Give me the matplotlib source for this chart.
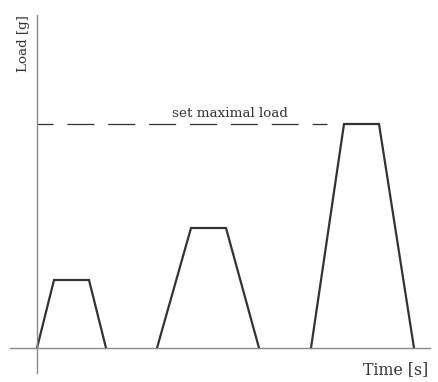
import matplotlib.pyplot as plt

# time points (arbitrary units) for each loading cycle: start, top start, top end, end
cycle_times = [
    [0, 17, 52, 69],
    [120, 154, 189, 222],
    [274, 307, 342, 377],
]
cycle_loads = [68, 120, 224]
max_load = 224
max_load_label = "set maximal load"

fig = plt.figure(figsize=(4.39, 3.82), dpi=100)
ax = fig.add_axes([0, 0, 1, 1])
ax.set_xlim(-37, 402)
ax.set_ylim(-34, 348)

for t, load in zip(cycle_times, cycle_loads):
    ax.plot(t, [0, load, load, 0], color="#333333", lw=1.6, solid_joinstyle="miter")

# dashed "maximal load" line, starting with a partial dash at the axis
ax.plot([0, 290], [max_load, max_load], color="#333333", lw=0.9,
        dash_capstyle="butt", linestyle=(8.8, (21.6, 11.1)))
ax.text(193, max_load + 7, max_load_label, ha="center", va="baseline",
        family="DejaVu Serif", fontsize=9.7, color="#333333")

for side in ["top", "right"]:
    ax.spines[side].set_visible(False)
ax.spines["left"].set_position(("data", 0))
ax.spines["bottom"].set_position(("data", 0))
ax.spines["left"].set_bounds(-25, 333)
ax.spines["bottom"].set_bounds(-27, 393)
for side in ["left", "bottom"]:
    ax.spines[side].set_color("#8a8a8a")
    ax.spines[side].set_linewidth(1.0)
ax.set_xticks([])
ax.set_yticks([])

ax.text(-13, 333, "Load [g]", rotation=90, ha="center", va="top",
        family="DejaVu Serif", fontsize=9.7, color="#333333")
ax.text(391, -22, "Time [s]", ha="right", va="center",
        family="DejaVu Serif", fontsize=11.3, color="#333333")

fig.savefig("out.png", dpi=100)
